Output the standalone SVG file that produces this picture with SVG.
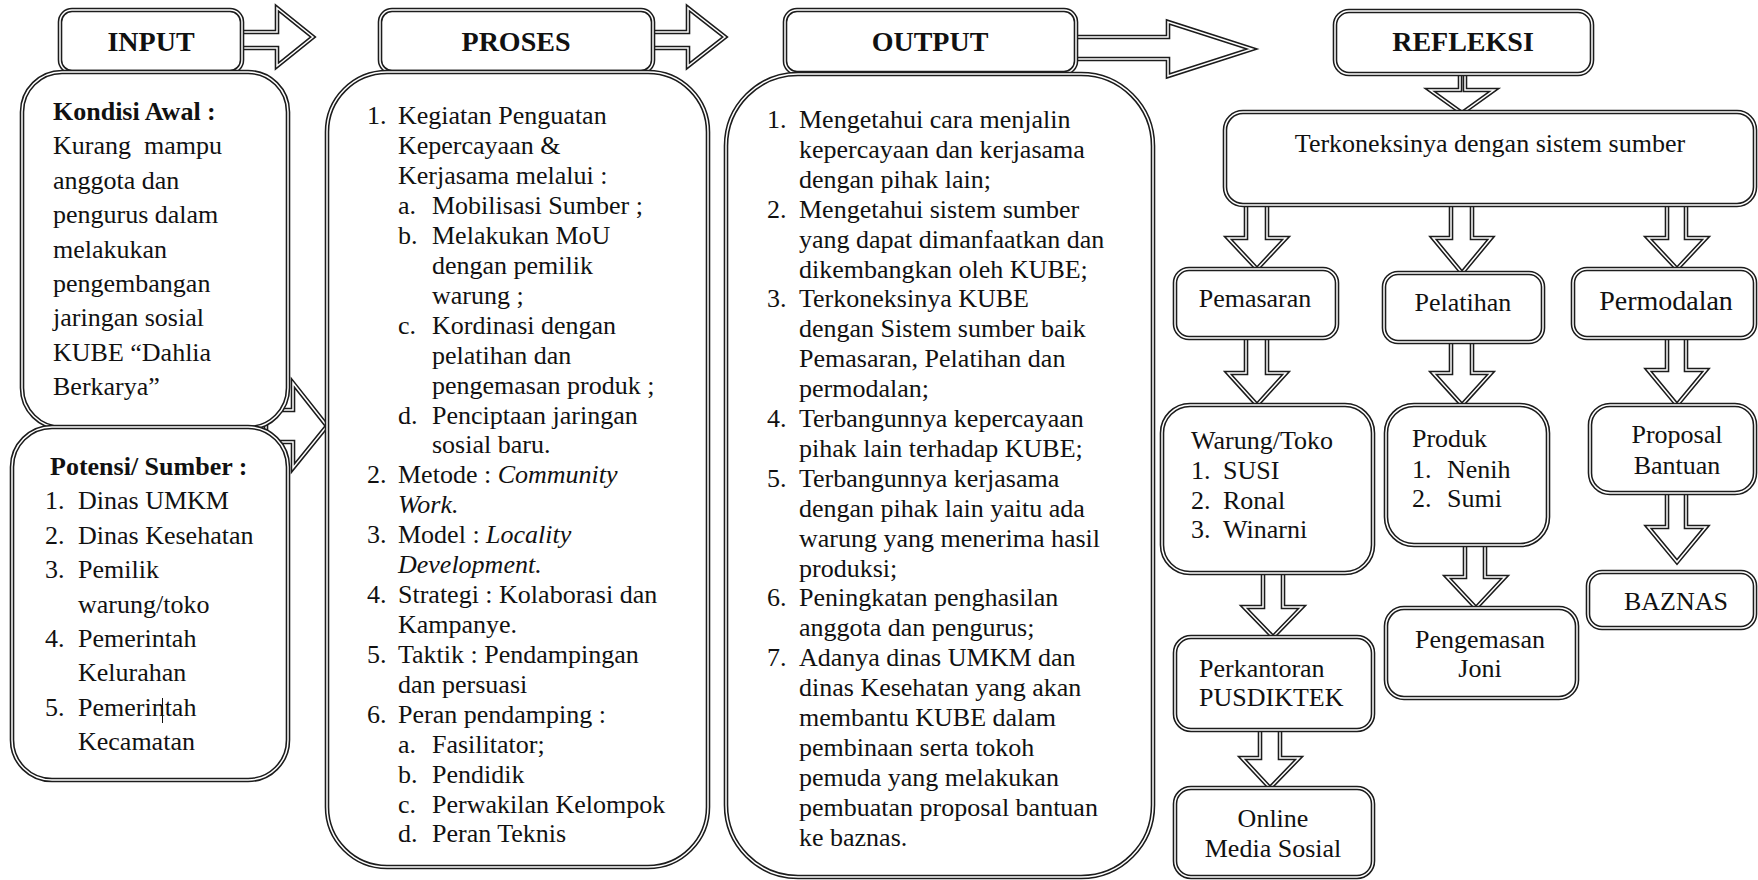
<svg xmlns="http://www.w3.org/2000/svg" width="1758" height="880" viewBox="0 0 1758 880">
<style>
.o{fill:#fff;stroke:#1c1c1c;stroke-width:4.6;stroke-linejoin:miter;stroke-miterlimit:6}
.i{fill:none;stroke:#fff;stroke-width:1.5;stroke-linejoin:miter;stroke-miterlimit:6}
text{font-family:"Liberation Serif","Times New Roman",serif;font-size:26px;fill:#111}
.h{font-weight:bold;font-size:28px;text-anchor:middle}
.c{text-anchor:middle}
.it{font-style:italic}
.bd{font-weight:bold}
</style>
<rect width="1758" height="880" fill="#fff"/>
<g id="connectors">
  <polygon class="o" points="240,32 277,32 277,8 313,37 277,66 277,48 240,48"/>
  <polygon class="i" points="240,32 277,32 277,8 313,37 277,66 277,48 240,48"/>
  <polygon class="o" points="651,32 688,32 688,8 725,37 688,66 688,48 651,48"/>
  <polygon class="i" points="651,32 688,32 688,8 725,37 688,66 688,48 651,48"/>
  <polygon class="o" points="1074,37 1168,37 1168,22 1252,49 1168,76 1168,59 1074,59"/>
  <polygon class="i" points="1074,37 1168,37 1168,22 1252,49 1168,76 1168,59 1074,59"/>
  <polygon class="o" points="266,410 293,410 293,383 327,426 293,468 293,442 266,442"/>
  <polygon class="i" points="266,410 293,410 293,383 327,426 293,468 293,442 266,442"/>
  <polygon class="o" points="1246,203 1267,203 1267,238 1286,238 1257,269 1228,238 1246,238"/>
  <polygon class="i" points="1246,203 1267,203 1267,238 1286,238 1257,269 1228,238 1246,238"/>
  <polygon class="o" points="1451,203 1472,203 1472,238 1491,238 1462,273 1433,238 1451,238"/>
  <polygon class="i" points="1451,203 1472,203 1472,238 1491,238 1462,273 1433,238 1451,238"/>
  <polygon class="o" points="1667,203 1686,203 1686,238 1706,238 1677,269 1648,238 1667,238"/>
  <polygon class="i" points="1667,203 1686,203 1686,238 1706,238 1677,269 1648,238 1667,238"/>
  <polygon class="o" points="1246,336 1267,336 1267,373 1286,373 1257,405 1228,373 1246,373"/>
  <polygon class="i" points="1246,336 1267,336 1267,373 1286,373 1257,405 1228,373 1246,373"/>
  <polygon class="o" points="1451,340 1472,340 1472,373 1491,373 1462,405 1433,373 1451,373"/>
  <polygon class="i" points="1451,340 1472,340 1472,373 1491,373 1462,405 1433,373 1451,373"/>
  <polygon class="o" points="1667,336 1686,336 1686,370 1706,370 1677,405 1648,370 1667,370"/>
  <polygon class="i" points="1667,336 1686,336 1686,370 1706,370 1677,405 1648,370 1667,370"/>
  <polygon class="o" points="1263,571 1283,571 1283,607 1302,607 1273,637 1244,607 1263,607"/>
  <polygon class="i" points="1263,571 1283,571 1283,607 1302,607 1273,637 1244,607 1263,607"/>
  <polygon class="o" points="1465,543 1485,543 1485,577 1505,577 1476,608 1447,577 1465,577"/>
  <polygon class="i" points="1465,543 1485,543 1485,577 1505,577 1476,608 1447,577 1465,577"/>
  <polygon class="o" points="1667,491 1686,491 1686,527 1706,527 1677,562 1648,527 1667,527"/>
  <polygon class="i" points="1667,491 1686,491 1686,527 1706,527 1677,562 1648,527 1667,527"/>
  <polygon class="o" points="1260,728 1280,728 1280,758 1299,758 1270,788 1242,758 1260,758"/>
  <polygon class="i" points="1260,728 1280,728 1280,758 1299,758 1270,788 1242,758 1260,758"/>
  <polygon class="o" points="1460,70 1465,70 1465,90 1494,90 1462,113 1430,90 1460,90"/>
  <polygon class="i" points="1460,70 1465,70 1465,90 1494,90 1462,113 1430,90 1460,90"/>
</g>
<g id="input-header">
  <rect class="o" x="60" y="10" width="182" height="62" rx="12"/>
  <rect class="i" x="60" y="10" width="182" height="62" rx="12"/>
  <text class="h" x="151" y="51">INPUT</text>
</g>
<g id="proses-header">
  <rect class="o" x="380" y="10" width="273" height="62" rx="12"/>
  <rect class="i" x="380" y="10" width="273" height="62" rx="12"/>
  <text class="h" x="516" y="51">PROSES</text>
</g>
<g id="output-header">
  <rect class="o" x="785" y="10" width="291" height="63" rx="12"/>
  <rect class="i" x="785" y="10" width="291" height="63" rx="12"/>
  <text class="h" x="930" y="51">OUTPUT</text>
</g>
<g id="refleksi-header">
  <rect class="o" x="1335" y="11" width="257" height="63" rx="14"/>
  <rect class="i" x="1335" y="11" width="257" height="63" rx="14"/>
  <text class="h" x="1463" y="51">REFLEKSI</text>
</g>
<g id="kondisi-awal">
  <rect class="o" x="22" y="72" width="266" height="356" rx="40"/>
  <rect class="i" x="22" y="72" width="266" height="356" rx="40"/>
  <text class="bd" x="53" y="120">Kondisi Awal :</text>
  <text x="53" y="154.4" xml:space="preserve">Kurang  mampu</text>
  <text x="53" y="188.8">anggota dan</text>
  <text x="53" y="223.2">pengurus dalam</text>
  <text x="53" y="257.6">melakukan</text>
  <text x="53" y="292">pengembangan</text>
  <text x="53" y="326.4">jaringan sosial</text>
  <text x="53" y="360.8">KUBE “Dahlia</text>
  <text x="53" y="395.2">Berkarya”</text>
</g>
<g id="potensi-sumber">
  <rect class="o" x="12" y="427" width="276" height="353" rx="40"/>
  <rect class="i" x="12" y="427" width="276" height="353" rx="40"/>
  <text class="bd" x="50" y="475">Potensi/ Sumber :</text>
  <text x="45" y="509.4">1.</text><text x="78" y="509.4">Dinas UMKM</text>
  <text x="45" y="543.8">2.</text><text x="78" y="543.8">Dinas Kesehatan</text>
  <text x="45" y="578.2">3.</text><text x="78" y="578.2">Pemilik</text>
  <text x="78" y="612.6">warung/toko</text>
  <text x="45" y="647">4.</text><text x="78" y="647">Pemerintah</text>
  <text x="78" y="681.4">Kelurahan</text>
  <text x="45" y="715.8">5.</text><text x="78" y="715.8">Pemerintah</text>
  <line x1="162.5" y1="698" x2="162.5" y2="723" stroke="#111" stroke-width="1"/>
  <text x="78" y="750.2">Kecamatan</text>
</g>
<g id="proses-body">
  <rect class="o" x="327" y="72" width="381" height="795" rx="60"/>
  <rect class="i" x="327" y="72" width="381" height="795" rx="60"/>
  <text x="367" y="124.3">1.</text><text x="398" y="124.3">Kegiatan Penguatan</text>
  <text x="398" y="154.2">Kepercayaan &amp;</text>
  <text x="398" y="184.1">Kerjasama melalui :</text>
  <text x="398" y="214.1">a.</text><text x="432" y="214.1">Mobilisasi Sumber ;</text>
  <text x="398" y="244">b.</text><text x="432" y="244">Melakukan MoU</text>
  <text x="432" y="273.9">dengan pemilik</text>
  <text x="432" y="303.8">warung ;</text>
  <text x="398" y="333.7">c.</text><text x="432" y="333.7">Kordinasi dengan</text>
  <text x="432" y="363.7">pelatihan dan</text>
  <text x="432" y="393.6">pengemasan produk ;</text>
  <text x="398" y="423.5">d.</text><text x="432" y="423.5">Penciptaan jaringan</text>
  <text x="432" y="453.4">sosial baru.</text>
  <text x="367" y="483.3">2.</text><text x="398" y="483.3">Metode : <tspan class="it">Community</tspan></text>
  <text class="it" x="398" y="513.3">Work.</text>
  <text x="367" y="543.2">3.</text><text x="398" y="543.2">Model : <tspan class="it">Locality</tspan></text>
  <text class="it" x="398" y="573.1">Development.</text>
  <text x="367" y="603">4.</text><text x="398" y="603">Strategi : Kolaborasi dan</text>
  <text x="398" y="633">Kampanye.</text>
  <text x="367" y="662.9">5.</text><text x="398" y="662.9">Taktik : Pendampingan</text>
  <text x="398" y="692.8">dan persuasi</text>
  <text x="367" y="722.7">6.</text><text x="398" y="722.7">Peran pendamping :</text>
  <text x="398" y="752.6">a.</text><text x="432" y="752.6">Fasilitator;</text>
  <text x="398" y="782.5">b.</text><text x="432" y="782.5">Pendidik</text>
  <text x="398" y="812.5">c.</text><text x="432" y="812.5">Perwakilan Kelompok</text>
  <text x="398" y="842.4">d.</text><text x="432" y="842.4">Peran Teknis</text>
</g>
<g id="output-body">
  <rect class="o" x="726" y="74" width="427" height="803" rx="72"/>
  <rect class="i" x="726" y="74" width="427" height="803" rx="72"/>
  <text x="767" y="128">1.</text><text x="799" y="128">Mengetahui cara menjalin</text>
  <text x="799" y="157.9">kepercayaan dan kerjasama</text>
  <text x="799" y="187.8">dengan pihak lain;</text>
  <text x="767" y="217.7">2.</text><text x="799" y="217.7">Mengetahui sistem sumber</text>
  <text x="799" y="247.6">yang dapat dimanfaatkan dan</text>
  <text x="799" y="277.5">dikembangkan oleh KUBE;</text>
  <text x="767" y="307.4">3.</text><text x="799" y="307.4">Terkoneksinya KUBE</text>
  <text x="799" y="337.3">dengan Sistem sumber baik</text>
  <text x="799" y="367.2">Pemasaran, Pelatihan dan</text>
  <text x="799" y="397.1">permodalan;</text>
  <text x="767" y="427">4.</text><text x="799" y="427">Terbangunnya kepercayaan</text>
  <text x="799" y="456.9">pihak lain terhadap KUBE;</text>
  <text x="767" y="486.8">5.</text><text x="799" y="486.8">Terbangunnya kerjasama</text>
  <text x="799" y="516.7">dengan pihak lain yaitu ada</text>
  <text x="799" y="546.6">warung yang menerima hasil</text>
  <text x="799" y="576.5">produksi;</text>
  <text x="767" y="606.4">6.</text><text x="799" y="606.4">Peningkatan penghasilan</text>
  <text x="799" y="636.3">anggota dan pengurus;</text>
  <text x="767" y="666.2">7.</text><text x="799" y="666.2">Adanya dinas UMKM dan</text>
  <text x="799" y="696.1">dinas Kesehatan yang akan</text>
  <text x="799" y="726">membantu KUBE dalam</text>
  <text x="799" y="755.9">pembinaan serta tokoh</text>
  <text x="799" y="785.8">pemuda yang melakukan</text>
  <text x="799" y="815.7">pembuatan proposal bantuan</text>
  <text x="799" y="845.6">ke baznas.</text>
</g>
<g id="terkoneksi">
  <rect class="o" x="1225" y="112" width="530" height="93" rx="18"/>
  <rect class="i" x="1225" y="112" width="530" height="93" rx="18"/>
  <text class="c" x="1490" y="152">Terkoneksinya dengan sistem sumber</text>
</g>
<g id="pemasaran">
  <rect class="o" x="1175" y="269" width="162" height="69" rx="14"/>
  <rect class="i" x="1175" y="269" width="162" height="69" rx="14"/>
  <text class="c" x="1255" y="307">Pemasaran</text>
</g>
<g id="pelatihan">
  <rect class="o" x="1384" y="273" width="159" height="69" rx="14"/>
  <rect class="i" x="1384" y="273" width="159" height="69" rx="14"/>
  <text class="c" x="1463" y="311">Pelatihan</text>
</g>
<g id="permodalan">
  <rect class="o" x="1573" y="269" width="182" height="69" rx="14"/>
  <rect class="i" x="1573" y="269" width="182" height="69" rx="14"/>
  <text class="c" x="1666" y="310" style="font-size:28px">Permodalan</text>
</g>
<g id="warung">
  <rect class="o" x="1162" y="405" width="211" height="168" rx="28"/>
  <rect class="i" x="1162" y="405" width="211" height="168" rx="28"/>
  <text x="1191" y="449">Warung/Toko</text>
  <text x="1191" y="479">1.</text><text x="1223" y="479">SUSI</text>
  <text x="1191" y="509">2.</text><text x="1223" y="509">Ronal</text>
  <text x="1191" y="538">3.</text><text x="1223" y="538">Winarni</text>
</g>
<g id="produk">
  <rect class="o" x="1386" y="405" width="162" height="140" rx="28"/>
  <rect class="i" x="1386" y="405" width="162" height="140" rx="28"/>
  <text x="1412" y="447">Produk</text>
  <text x="1412" y="478">1.</text><text x="1447" y="478">Nenih</text>
  <text x="1412" y="507">2.</text><text x="1447" y="507">Sumi</text>
</g>
<g id="proposal">
  <rect class="o" x="1590" y="405" width="165" height="88" rx="20"/>
  <rect class="i" x="1590" y="405" width="165" height="88" rx="20"/>
  <text class="c" x="1677" y="443">Proposal</text>
  <text class="c" x="1677" y="474">Bantuan</text>
</g>
<g id="perkantoran">
  <rect class="o" x="1175" y="637" width="198" height="93" rx="16"/>
  <rect class="i" x="1175" y="637" width="198" height="93" rx="16"/>
  <text x="1199" y="677">Perkantoran</text>
  <text x="1199" y="706">PUSDIKTEK</text>
</g>
<g id="pengemasan">
  <rect class="o" x="1386" y="608" width="191" height="90" rx="18"/>
  <rect class="i" x="1386" y="608" width="191" height="90" rx="18"/>
  <text class="c" x="1480" y="648">Pengemasan</text>
  <text class="c" x="1480" y="677">Joni</text>
</g>
<g id="baznas">
  <rect class="o" x="1588" y="572" width="167" height="56" rx="14"/>
  <rect class="i" x="1588" y="572" width="167" height="56" rx="14"/>
  <text class="c" x="1676" y="610">BAZNAS</text>
</g>
<g id="online">
  <rect class="o" x="1175" y="788" width="198" height="89" rx="16"/>
  <rect class="i" x="1175" y="788" width="198" height="89" rx="16"/>
  <text class="c" x="1273" y="827">Online</text>
  <text class="c" x="1273" y="857">Media Sosial</text>
</g>
</svg>
